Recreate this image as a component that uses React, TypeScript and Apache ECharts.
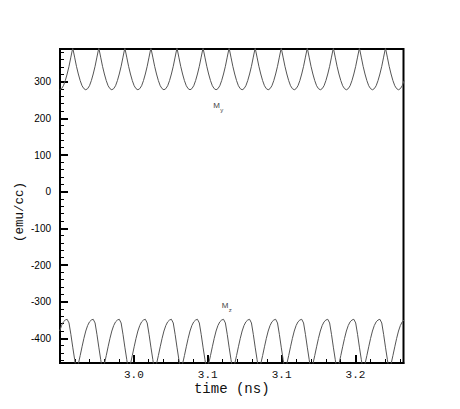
import React, { useEffect, useRef } from "react";
import * as echarts from "echarts";

// sample times (ns)
const timeNs: number[] = [
  2.94980, 2.95106, 2.95232, 2.95358, 2.95484, 2.95610, 2.95736, 2.95862, 2.95988, 2.96114, 2.96240, 2.96366, 2.96492, 2.96618,
  2.96744, 2.96870, 2.96996, 2.97122, 2.97248, 2.97374, 2.97500, 2.97626, 2.97752, 2.97878, 2.98004, 2.98130, 2.98256, 2.98382,
  2.98508, 2.98634, 2.98760, 2.98886, 2.99012, 2.99138, 2.99264, 2.99390, 2.99516, 2.99642, 2.99768, 2.99894, 3.00020, 3.00146,
  3.00272, 3.00398, 3.00524, 3.00650, 3.00776, 3.00902, 3.01028, 3.01154, 3.01280, 3.01406, 3.01532, 3.01658, 3.01784, 3.01910,
  3.02036, 3.02162, 3.02288, 3.02414, 3.02540, 3.02666, 3.02792, 3.02918, 3.03044, 3.03170, 3.03296, 3.03422, 3.03548, 3.03674,
  3.03800, 3.03926, 3.04052, 3.04178, 3.04304, 3.04430, 3.04556, 3.04682, 3.04808, 3.04934, 3.05060, 3.05186, 3.05312, 3.05438,
  3.05564, 3.05690, 3.05816, 3.05942, 3.06068, 3.06194, 3.06320, 3.06446, 3.06572, 3.06698, 3.06824, 3.06950, 3.07076, 3.07202,
  3.07328, 3.07454, 3.07580, 3.07706, 3.07832, 3.07958, 3.08084, 3.08210, 3.08336, 3.08462, 3.08588, 3.08714, 3.08840, 3.08966,
  3.09092, 3.09218, 3.09344, 3.09470, 3.09596, 3.09722, 3.09848, 3.09974, 3.10100, 3.10226, 3.10352, 3.10478, 3.10604, 3.10730,
  3.10856, 3.10982, 3.11108, 3.11234, 3.11360, 3.11486, 3.11612, 3.11738, 3.11864, 3.11990, 3.12116, 3.12242, 3.12368, 3.12494,
  3.12620, 3.12746, 3.12872, 3.12998, 3.13124, 3.13250, 3.13376, 3.13502, 3.13628, 3.13754, 3.13880, 3.14006, 3.14132, 3.14258,
  3.14384, 3.14510, 3.14636, 3.14762, 3.14888, 3.15014, 3.15140, 3.15266, 3.15392, 3.15518, 3.15644, 3.15770, 3.15896, 3.16022,
  3.16148, 3.16274, 3.16400, 3.16526, 3.16652, 3.16778, 3.16904, 3.17030, 3.17156, 3.17282, 3.17408, 3.17534, 3.17660, 3.17786,
  3.17912, 3.18038, 3.18164, 3.18290,
];

// M_y (emu/cc)
const myValues: number[] = [
  278, 281, 289, 303, 321, 342, 367, 392, 367, 342, 321, 303, 289, 281,
  278, 281, 289, 303, 321, 342, 367, 392, 367, 342, 321, 303, 289, 281,
  278, 281, 289, 303, 321, 342, 367, 392, 367, 342, 321, 303, 289, 281,
  278, 281, 289, 303, 321, 342, 367, 392, 367, 342, 321, 303, 289, 281,
  278, 281, 289, 303, 321, 342, 367, 392, 367, 342, 321, 303, 289, 281,
  278, 281, 289, 303, 321, 342, 367, 392, 367, 342, 321, 303, 289, 281,
  278, 281, 289, 303, 321, 342, 367, 392, 367, 342, 321, 303, 289, 281,
  278, 281, 289, 303, 321, 342, 367, 392, 367, 342, 321, 303, 289, 281,
  278, 281, 289, 303, 321, 342, 367, 392, 367, 342, 321, 303, 289, 281,
  278, 281, 289, 303, 321, 342, 367, 392, 367, 342, 321, 303, 289, 281,
  278, 281, 289, 303, 321, 342, 367, 392, 367, 342, 321, 303, 289, 281,
  278, 281, 289, 303, 321, 342, 367, 392, 367, 342, 321, 303, 289, 281,
  278, 281, 289, 303, 321, 342, 367, 392, 367, 342, 321, 303, 289, 281,
  278, 281, 289, 303,
];

// M_z (emu/cc)
const mzValues: number[] = [
  -380, -365, -355, -350, -348, -358, -389, -424, -457, -491, -470, -447, -423, -400,
  -380, -365, -355, -350, -348, -358, -389, -424, -457, -491, -470, -447, -423, -400,
  -380, -365, -355, -350, -348, -358, -389, -424, -457, -491, -470, -447, -423, -400,
  -380, -365, -355, -350, -348, -358, -389, -424, -457, -491, -470, -447, -423, -400,
  -380, -365, -355, -350, -348, -358, -389, -424, -457, -491, -470, -447, -423, -400,
  -380, -365, -355, -350, -348, -358, -389, -424, -457, -491, -470, -447, -423, -400,
  -380, -365, -355, -350, -348, -358, -389, -424, -457, -491, -470, -447, -423, -400,
  -380, -365, -355, -350, -348, -358, -389, -424, -457, -491, -470, -447, -423, -400,
  -380, -365, -355, -350, -348, -358, -389, -424, -457, -491, -470, -447, -423, -400,
  -380, -365, -355, -350, -348, -358, -389, -424, -457, -491, -470, -447, -423, -400,
  -380, -365, -355, -350, -348, -358, -389, -424, -457, -491, -470, -447, -423, -400,
  -380, -365, -355, -350, -348, -358, -389, -424, -457, -491, -470, -447, -423, -400,
  -380, -365, -355, -350, -348, -358, -389, -424, -457, -491, -470, -447, -423, -400,
  -380, -365, -355, -350,
];

const xRange: number[] = [2.95, 3.1825];
const yRange: number[] = [-467.2, 389.2];
const seriesNames: string[] = ["M_y", "M_z"];
// annotation anchors [time, value]
const myLabelAt: number[] = [3.0537, 235];
const mzLabelAt: number[] = [3.0595, -310];

const MONO = '"Liberation Mono", "Courier New", monospace';
const SANS = '"Liberation Sans", Arial, Helvetica, sans-serif';

export default function App() {
  const ref = useRef<HTMLDivElement>(null);
  useEffect(() => {
    if (!ref.current) return;
    const chart = echarts.init(ref.current, undefined, { renderer: "svg" });
    const fmtX = (v: number) => (Math.round(v * 10 + 1e-6) / 10).toFixed(1);
    const option: any = {
      animation: false,
      backgroundColor: "#fff",
      grid: {
        left: 60,
        right: 56.5,
        top: 49,
        bottom: 46,
        show: true,
        borderColor: "#000",
        borderWidth: 2,
        backgroundColor: "transparent",
      },
      xAxis: [
        {
          type: "value",
          position: "bottom",
          min: xRange[0],
          max: xRange[1],
          interval: 0.05,
          axisLine: { show: true, onZero: false, lineStyle: { color: "#000", width: 2 } },
          axisTick: { show: true, inside: true, length: 8, lineStyle: { color: "#000", width: 2 } },
          axisLabel: {
            show: true,
            margin: 6,
            fontFamily: MONO,
            fontSize: 11,
            color: "#111",
            showMinLabel: false,
            showMaxLabel: false,
            formatter: fmtX,
          },
          splitLine: { show: false },
          name: "time (ns)",
          nameLocation: "middle",
          nameGap: 19,
          nameMoveOverlap: false,
          nameTextStyle: { fontFamily: MONO, fontSize: 14, color: "#111" },
        },
        {
          type: "value",
          position: "bottom",
          min: xRange[0],
          max: xRange[1],
          interval: 0.01,
          axisLine: { show: false, onZero: false },
          axisTick: { show: true, inside: true, length: 4, lineStyle: { color: "#000", width: 1 } },
          axisLabel: { show: false },
          splitLine: { show: false },
        },
      ],
      yAxis: [
        {
          type: "value",
          position: "left",
          min: yRange[0],
          max: yRange[1],
          splitNumber: 8,
          minInterval: 100,
          maxInterval: 100,
          axisLine: { show: true, onZero: false, lineStyle: { color: "#000", width: 2 } },
          axisTick: { show: true, inside: true, length: 8, lineStyle: { color: "#000", width: 2 } },
          axisLabel: {
            show: true,
            margin: 9,
            fontFamily: SANS,
            fontSize: 10,
            color: "#000",
            showMinLabel: false,
            showMaxLabel: false,
          },
          splitLine: { show: false },
          name: "(emu/cc)",
          nameLocation: "middle",
          nameRotate: 90,
          nameGap: 34,
          nameMoveOverlap: false,
          nameTextStyle: { fontFamily: MONO, fontSize: 12.5, color: "#111", padding: [0, 12, 0, 0] },
        },
        {
          type: "value",
          position: "left",
          min: yRange[0],
          max: yRange[1],
          splitNumber: 43,
          minInterval: 20,
          maxInterval: 20,
          axisLine: { show: false, onZero: false },
          axisTick: { show: true, inside: true, length: 4, lineStyle: { color: "#000", width: 1 } },
          axisLabel: { show: false },
          splitLine: { show: false },
        },
      ],
      series: [
        {
          name: seriesNames[0],
          type: "line",
          xAxisIndex: 0,
          yAxisIndex: 0,
          data: timeNs.map((t, i) => [t, myValues[i]]),
          symbol: "none",
          showSymbol: false,
          clip: true,
          lineStyle: { color: "#555", width: 1 },
          z: 1,
        },
        {
          name: seriesNames[1],
          type: "line",
          xAxisIndex: 0,
          yAxisIndex: 0,
          data: timeNs.map((t, i) => [t, mzValues[i]]),
          symbol: "none",
          showSymbol: false,
          clip: true,
          lineStyle: { color: "#555", width: 1 },
          z: 1,
        },
      ],
    };
    chart.setOption(option);

    const p1 = chart.convertToPixel({ seriesIndex: 0 }, myLabelAt) as number[];
    const p2 = chart.convertToPixel({ seriesIndex: 0 }, mzLabelAt) as number[];
    const label = (p: number[], sub: string) => [
      {
        type: "text",
        x: p[0],
        y: p[1],
        style: { text: "M", font: `8px ${SANS}`, fill: "#444", textAlign: "left", textVerticalAlign: "middle" },
      },
      {
        type: "text",
        x: p[0] + 7,
        y: p[1] + 4.7,
        style: { text: sub, font: `6px ${SANS}`, fill: "#444", textAlign: "left", textVerticalAlign: "middle" },
      },
    ];
    chart.setOption({ graphic: [...label(p1, "y"), ...label(p2, "z")] });

    return () => chart.dispose();
  }, []);
  return (
    <div
      ref={ref}
      style={{ position: "fixed", left: 0, top: 0, width: 460, height: 409, background: "#fff" }}
    />
  );
}
